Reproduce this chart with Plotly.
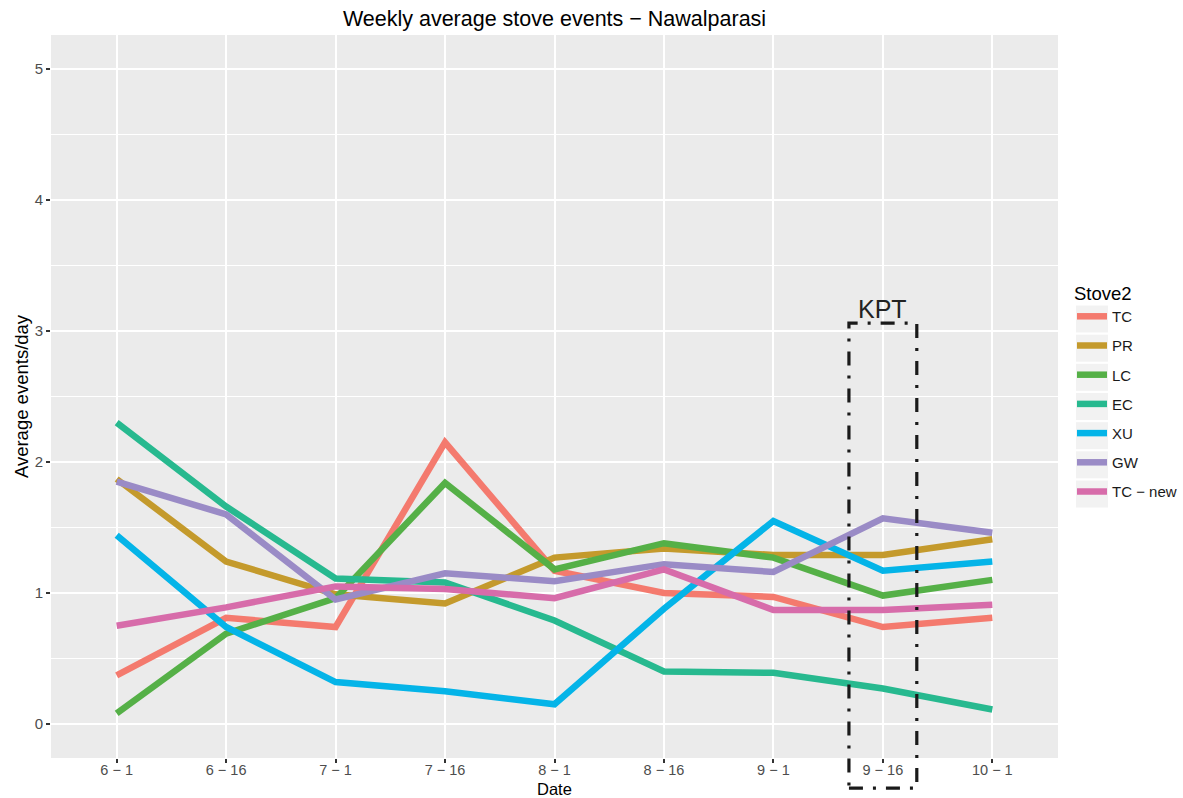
import plotly.graph_objects as go

# Survey weeks (month − day) and stove types
weeks = ["6 − 1", "6 − 16", "7 − 1", "7 − 16", "8 − 1", "8 − 16", "9 − 1", "9 − 16", "10 − 1"]
stoves = ["TC", "PR", "LC", "EC", "XU", "GW", "TC − new"]

# Weekly average events per day for each stove
tc = [0.37, 0.81, 0.74, 2.15, 1.17, 1.00, 0.97, 0.74, 0.81]
pr = [1.87, 1.24, 0.99, 0.92, 1.27, 1.34, 1.29, 1.29, 1.41]
lc = [0.08, 0.69, 0.96, 1.84, 1.18, 1.38, 1.27, 0.98, 1.10]
ec = [2.30, 1.66, 1.11, 1.08, 0.79, 0.40, 0.39, 0.27, 0.11]
xu = [1.44, 0.74, 0.32, 0.25, 0.15, 0.88, 1.55, 1.17, 1.24]
gw = [1.85, 1.60, 0.95, 1.15, 1.09, 1.22, 1.16, 1.57, 1.46]
tc_new = [0.75, 0.89, 1.05, 1.03, 0.96, 1.18, 0.87, 0.87, 0.91]

series = [tc, pr, lc, ec, xu, gw, tc_new]
colors = ["#F47A6E", "#C49A2C", "#55B047", "#27B98F", "#04B4E8", "#9A8BC6", "#D76CAA"]

y_ticks = [0, 1, 2, 3, 4, 5]
x_range = [-0.6, len(weeks) - 1 + 0.6]
y_range = [-0.26, 5.26]

# Highlighted week (KPT) box extent, in category units / data units
kpt_week = "9 − 16"
kpt_half_width = 0.31
kpt_top = 3.06
kpt_bottom = -0.49

FONT = "Liberation Sans, Arial, sans-serif"
W, H = 1183, 798
L, R, T, B = 51, 1058, 35, 758

fig = go.Figure()
for name, vals, col in zip(stoves, series, colors):
    fig.add_trace(go.Scatter(
        x=weeks, y=vals, mode="lines", name=name,
        legendgroup=name,
        line=dict(color=col, width=6.5),
    ))

# Convert KPT box to axis-domain fractions so it can extend past the panel
kpt_idx = weeks.index(kpt_week)
def xdom(v):
    return (v - x_range[0]) / (x_range[1] - x_range[0])
def ydom(v):
    return (v - y_range[0]) / (y_range[1] - y_range[0])

shapes = [dict(
    type="rect", xref="x domain", yref="y domain",
    x0=xdom(kpt_idx - kpt_half_width), x1=xdom(kpt_idx + kpt_half_width),
    y0=ydom(kpt_bottom), y1=ydom(kpt_top),
    line=dict(color="#1a1a1a", width=3.2, dash="14px,10px,3px,10px"),
    fillcolor="rgba(0,0,0,0)", layer="above",
)]

# Grey key backgrounds behind legend entries
key_left, key_right = 1076, 1108
key_centers = [319 + 29.17 * i for i in range(len(stoves))]
for c in key_centers:
    shapes.append(dict(
        type="rect", xref="paper", yref="paper",
        x0=(key_left - L) / (R - L), x1=(key_right - L) / (R - L),
        y0=(B - (c + 13.5)) / (B - T), y1=(B - (c - 13.5)) / (B - T),
        line=dict(width=0), fillcolor="#F2F2F2", layer="below",
    ))

fig.update_layout(
    width=W, height=H,
    margin=dict(l=L, r=W - R, t=T, b=H - B, autoexpand=False),
    paper_bgcolor="white", plot_bgcolor="#EBEBEB",
    font=dict(family=FONT, color="#1a1a1a"),
    title=dict(text="Weekly average stove events − Nawalparasi",
               x=554.5 / W, xanchor="center", xref="container",
               y=1 - 18 / H, yanchor="middle", yref="container",
               font=dict(size=21.5, color="black", family=FONT)),
    xaxis=dict(
        type="category", categoryorder="array", categoryarray=weeks,
        range=x_range, showgrid=True, gridcolor="white", gridwidth=2.2,
        ticks="outside", ticklen=4, tickwidth=2, tickcolor="#333333",
        ticklabelstandoff=-5,
        tickfont=dict(size=14.5, color="#4D4D4D", family=FONT),
        zeroline=False, showline=False, automargin=False,
    ),
    yaxis=dict(
        range=y_range, tickvals=y_ticks, showgrid=True, gridcolor="white", gridwidth=2.2,
        minor=dict(dtick=0.5, tick0=0, showgrid=True, gridcolor="white", gridwidth=1.1, ticks=""),
        ticks="outside", ticklen=4, tickwidth=2, tickcolor="#333333",
        tickfont=dict(size=15, color="#4D4D4D", family=FONT),
        title=dict(text="Average events/day", standoff=1, font=dict(size=18.5, color="black")),
        zeroline=False, showline=False, automargin=False,
    ),
    legend=dict(
        title=dict(text="Stove2", font=dict(size=18.5, color="black")),
        xref="container", yref="container",
        x=1072 / W, xanchor="left",
        y=1 - 276 / H, yanchor="top",
        bgcolor="rgba(0,0,0,0)", borderwidth=0,
        tracegroupgap=6.7, font=dict(size=15, color="#1a1a1a"),
    ),
    shapes=shapes,
    annotations=[
        dict(
            text="KPT", xref="x domain", yref="y domain",
            x=xdom(kpt_idx), y=ydom(kpt_top), xanchor="center", yanchor="bottom",
            showarrow=False, yshift=-2, font=dict(size=25, color="#222222", family=FONT),
        ),
        # x-axis title, placed just below the tick labels
        dict(
            text="Date", xref="x domain", yref="paper",
            x=0.5, y=-(788.5 - B) / (B - T), xanchor="center", yanchor="middle",
            showarrow=False, borderpad=0,
            font=dict(size=16.5, color="black", family=FONT),
        ),
    ],
)

fig.write_html("out.html")
